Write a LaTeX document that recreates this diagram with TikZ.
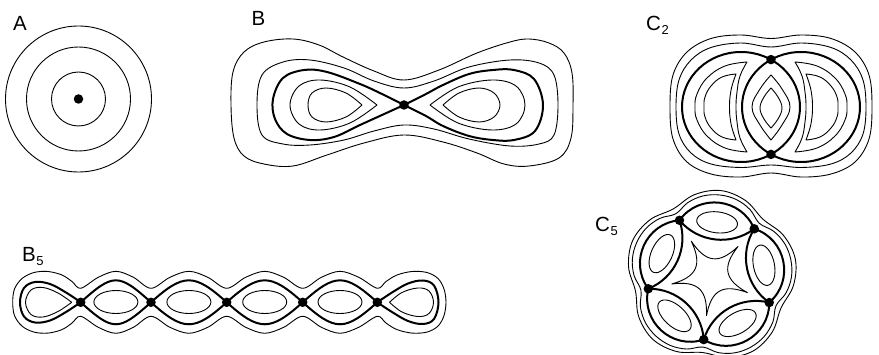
\documentclass[tikz,border=0pt]{standalone}
\usepackage{fontspec}
\setmainfont{Liberation Sans}
% small lowered index after a letter label
\newcommand{\subidx}[1]{\kern0.6pt\raisebox{-4pt}{\fontsize{13}{13}\selectfont #1}}
% the two nested crescents of the left lobe of C2
\newcommand{\crescentpair}{%
  \draw[contour] plot[smooth, tension=0.7] coordinates {(747,62) (725,66) (707,78) (697,94) (695,107) (697,120) (707,136) (725,148) (747,152)}
     -- plot[smooth, tension=0.7] coordinates {(747,152) (740,138) (737,122) (736,107) (737,92) (740,76) (747,62)} -- cycle;
  \draw[contour] plot[smooth, tension=0.7] coordinates {(736,74) (722,77) (711,86) (705,97) (704,107) (705,117) (711,128) (722,137) (736,140)}
     -- plot[smooth, tension=0.7] coordinates {(736,140) (732,128) (730,117) (729.5,107) (730,97) (732,86) (736,74)} -- cycle;
}
\begin{document}
\begin{tikzpicture}[x=1pt, y=-1pt, line join=round,
  contour/.style={line width=0.9pt},
  separatrix/.style={line width=2pt},
  saddle/.style={circle, fill=black, inner sep=0pt, minimum size=9.5pt},
  lab/.style={anchor=base west, inner sep=0pt, font=\fontsize{20.5}{24}\selectfont}]
\useasboundingbox (0,0) rectangle (879,355);

% ---------- A : centre ----------
\node[lab] (labA) at (13,31) {A};
\draw[contour] (78.5,99) circle[radius=73] (78.5,99) circle[radius=52] (78.5,99) circle[radius=27];
\node[saddle] (a0) at (78.5,99) {};

% ---------- B : one saddle ----------
\node[lab] (labB) at (251.5,26) {B};
\begin{scope}[shift={(404,105)}]
  \node[saddle] (b0) at (0,0) {};
  % outer contours
  \draw[contour] plot[smooth cycle, tension=0.6] coordinates {(-173,0) (-171,-33) (-160,-53) (-140,-63) (-111,-66) (-85,-60) (-61,-48) (-30,-34) (0,-25) (35,-35) (73,-52) (106,-63) (125,-66) (145,-62) (160,-52) (168,-32) (169,0) (167,33) (155,53) (125,61) (100,59) (73,48) (39,37) (0,30) (-40,38) (-77,50) (-111,61) (-140,59) (-160,51) (-170,33)};
  \draw[contour] plot[smooth cycle, tension=0.6] coordinates {(-147,0) (-142,-30) (-121,-43) (-94,-45) (-60,-37) (-30,-24) (0,-17) (30,-24) (65,-38) (106,-45) (135,-42) (150,-30) (154,0) (150,30) (135,39) (106,41) (65,34) (30,24) (0,20) (-30,26) (-60,35) (-94,40) (-121,39) (-142,30)};
  % separatrix loops
  \draw[separatrix] plot[smooth, tension=0.6] coordinates {(0,0) (-22,-11) (-44,-21) (-77,-33) (-100,-35) (-121,-27) (-131,-6) (-129,14) (-117,29) (-94,35) (-70,32) (-44,20) (-22,10) (0,0)};
  \draw[separatrix] plot[smooth, tension=0.6] coordinates {(0,0) (22,-11) (39,-20) (65,-31) (89,-35) (110,-35) (130,-26) (139,0) (131,26) (110,35) (89,35) (65,31) (39,21) (22,11) (0,0)};
  % inner contours
  \draw[contour] plot[smooth, tension=0.6] coordinates {(-27,0) (-54,-18) (-84,-25) (-105,-19) (-114,0) (-105,19) (-84,25) (-54,18) (-27,0)};
  \draw[contour] plot[smooth, tension=0.6] coordinates {(-42,0) (-58,-12) (-78,-17) (-92,-12) (-96,0) (-92,12) (-78,17) (-58,12) (-42,0)};
  \draw[contour] plot[smooth, tension=0.6] coordinates {(26,0) (54,-18) (88,-25) (112,-19) (121,0) (112,19) (88,25) (54,18) (26,0)};
  \draw[contour] plot[smooth, tension=0.6] coordinates {(39,0) (55,-12) (75,-17) (90,-12) (96,0) (90,12) (75,17) (55,12) (39,0)};
\end{scope}

% ---------- C2 : two saddles ----------
\node[lab] (labC2) at (646,30.5) {C\subidx{2}};
\node[saddle] (c2t) at (771,59.6) {};
\node[saddle] (c2b) at (771,154.4) {};
\draw[separatrix] (741,107) ellipse[x radius=59, y radius=55] (801,107) ellipse[x radius=59, y radius=55];
\draw[contour] plot[smooth cycle, tension=0.6] coordinates {(676,107) (679,80) (691,60) (711,47.5) (741,43) (771,47) (801,43) (831,47.5) (851,60) (863,80) (866,107) (863,134) (851,153) (831,164) (801,167.5) (771,165) (741,167.5) (711,164) (691,153) (679,134)};
\draw[contour] plot[smooth cycle, tension=0.6] coordinates {(670,107) (673,75) (687,52) (711,38.5) (741,35) (771,38.5) (801,35) (831,38.5) (855,52) (869,75) (872,107) (869,139) (855,162) (831,174) (801,177) (771,173) (741,177) (711,174) (687,162) (673,139)};
\crescentpair
\begin{scope}[shift={(1542,0)}, xscale=-1]
  \crescentpair
\end{scope}
\draw[contour] plot[smooth, tension=0.7] coordinates {(771,75) (760,89) (752,107) (760,125) (771,140)}
   -- plot[smooth, tension=0.7] coordinates {(771,140) (782,125) (790,107) (782,89) (771,75)} -- cycle;
\draw[contour] plot[smooth, tension=0.7] coordinates {(771,88) (764,97) (760,108) (764,119) (771,128)}
   -- plot[smooth, tension=0.7] coordinates {(771,128) (778,119) (782,108) (778,97) (771,88)} -- cycle;

% ---------- B5 : chain of five saddles ----------
\node[lab] (labB5) at (22,261.5) {B\subidx{5}};
\foreach \n/\x in {1/80.7,2/151,3/226.7,4/302.7,5/377.3}
  \node[saddle] (f\n) at (\x,302.3) {};
\draw[contour] plot[smooth cycle, tension=0.55] coordinates {
  (12.7,302.3) (14.5,289) (22,278.5) (34,272.5) (48,271.5) (62,275) (72,281.5) (80.7,288.3)
  (98.3,277.3) (115.9,271.3) (133.4,277.3) (151,288.3)
  (169.9,277.3) (188.9,271.3) (207.8,277.3) (226.7,288.3)
  (245.7,277.3) (264.7,271.3) (283.7,277.3) (302.7,288.3)
  (321.4,277.3) (340,271.3) (358.7,277.3) (377.3,288.3)
  (386,281.5) (397,275) (412,271.5) (427,272.5) (438,278.5) (444,289) (446,302.3)
  (444,315.6) (438,326.1) (427,332.1) (412,333.1) (397,329.6) (386,323.1) (377.3,316.3)
  (358.7,327.3) (340,333.3) (321.4,327.3) (302.7,316.3)
  (283.7,327.3) (264.7,333.3) (245.7,327.3) (226.7,316.3)
  (207.8,327.3) (188.9,333.3) (169.9,327.3) (151,316.3)
  (133.4,327.3) (115.9,333.3) (98.3,327.3) (80.7,316.3)
  (72,323.1) (62,329.6) (48,333.1) (34,332.1) (22,326.1) (14.5,315.6)};
\draw[separatrix] plot[smooth, tension=0.6] coordinates {(80.7,302.3) (66,292.5) (50,284) (35,282) (24,288) (20,302.3) (24,316.5) (35,322.5) (50,320.5) (66,312) (80.7,302.3)};
\draw[separatrix] plot[smooth, tension=0.6] coordinates {(377.3,302.3) (392,292.5) (408,283.5) (423,280.5) (434,285.5) (438.5,302.3) (434,319) (423,324) (408,321) (392,312) (377.3,302.3)};
\foreach \i/\j in {1/2,2/3,3/4,4/5} {
  \draw[separatrix] (f\i.center) .. controls +(32.6,-29.3) and +(-32.6,-29.3) .. (f\j.center);
  \draw[separatrix] (f\i.center) .. controls +(32.6,29.3) and +(-32.6,29.3) .. (f\j.center);
}
\draw[contour] plot[smooth, tension=0.6] coordinates {(71.7,302.3) (58,293) (43,287.5) (31,290) (25.5,302.3) (31,314.5) (43,317) (58,311.5) (71.7,302.3)};
\draw[contour] plot[smooth, tension=0.6] coordinates {(389.5,302.3) (402,292.5) (418,288) (429,291) (433.5,302.3) (429,313.5) (418,316.5) (402,312) (389.5,302.3)};
\foreach \x in {115.9,188.9,264.7,340}
  \draw[contour] (\x,302) ellipse[x radius=22, y radius=11.5];

% ---------- C5 : ring of five saddles ----------
\node[lab] (labC5) at (595,232) {C\subidx{5}};
\begin{scope}[shift={(711,276)}, yscale=-1]
  \foreach \k in {0,...,4} {
    \pgfmathsetmacro{\dotdir}{47.5+72*\k}
    \node[saddle] (e\k) at (\dotdir:64) {};
  }
  % each lens is drawn in a frame whose x axis points along its middle direction
  \foreach \k/\j in {0/1,1/2,2/3,3/4,4/0} {
    \pgfmathsetmacro{\lensdir}{-(83.5+72*\k)}
    \begin{scope}[rotate=\lensdir]
      \draw[separatrix] (e\k.center) .. controls (81.1,-21.2) and (81.1,21.2) .. (e\j.center);
      \draw[separatrix] (e\k.center) .. controls (31.8,-16.6) and (31.8,16.6) .. (e\j.center);
      \draw[contour] (54,0) ellipse[x radius=10.5, y radius=20.5];
    \end{scope}
  }
  % star around the centre, its arms pointing at the saddles
  \draw[contour] (47.5:40) \foreach \a in {47.5,119.5,191.5,263.5,335.5} { .. controls (\a+8:14) and (\a+64:14) .. (\a+72:40) } -- cycle;
  % outer contours
  \draw[contour] plot[smooth cycle, tension=0.6] coordinates {
    (47.5:71.5) (59.5:77) (71.5:80.5) (83.5:81.5) (95.5:80.5) (107.5:77)
    (119.5:71.5) (131.5:77) (143.5:80.5) (155.5:81.5) (167.5:80.5) (179.5:77)
    (191.5:71.5) (203.5:77) (215.5:80.5) (227.5:81.5) (239.5:80.5) (251.5:77)
    (263.5:71.5) (275.5:77) (287.5:80.5) (299.5:81.5) (311.5:80.5) (323.5:77)
    (335.5:71.5) (347.5:77) (359.5:80.5) (371.5:81.5) (383.5:80.5) (395.5:77)};
  \draw[contour] plot[smooth cycle, tension=0.6] coordinates {
    (47.5:77) (65.5:83) (83.5:86) (101.5:83)
    (119.5:77) (137.5:83) (155.5:86) (173.5:83)
    (191.5:77) (209.5:83) (227.5:86) (245.5:83)
    (263.5:77) (281.5:83) (299.5:86) (317.5:83)
    (335.5:77) (353.5:83) (371.5:86) (389.5:83)};
\end{scope}
\end{tikzpicture}
\end{document}
